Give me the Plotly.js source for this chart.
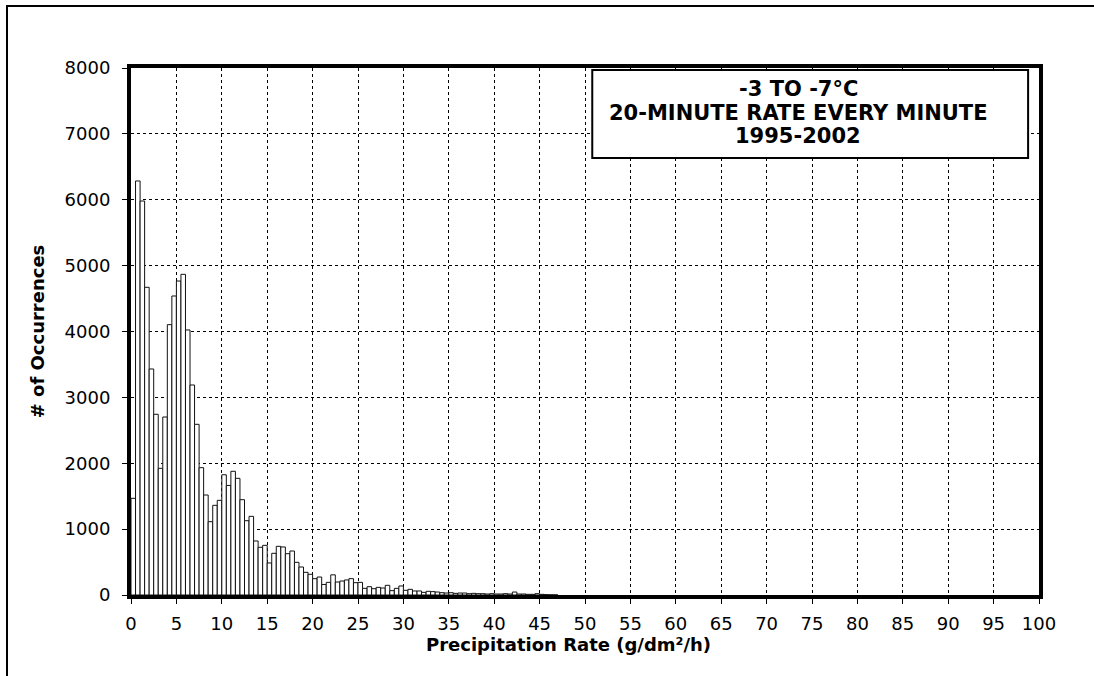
<!DOCTYPE html>
<html>
<head>
<meta charset="utf-8">
<script src="https://cdn.plot.ly/plotly-3.0.1.min.js"></script>
<style>
  html, body { margin: 0; padding: 0; background: #fff; }
  #frame { position: absolute; left: 6px; top: 5px; width: 1200px; height: 800px;
           border-left: 2px solid #000; border-top: 2px solid #000; }
  #chart { position: absolute; left: 0; top: 0; width: 1094px; height: 676px; }
</style>
</head>
<body>
<div id="frame"></div>
<div id="chart"></div>
<script>
// Precipitation rate bins (g/dm²/h), bin width 0.5, first bin starts at 0
const binWidth = 0.5;
const firstBinCenter = 0.25;
const occurrences = [
  1468, 6285, 5981, 4671, 3431, 2743, 1923, 2702, 4104, 4539,
  4766, 4868, 4023, 3188, 2591, 1933, 1518, 1113, 1361, 1437,
  1825, 1663, 1878, 1771, 1447, 1128, 1194, 820, 724, 754,
  486, 633, 739, 729, 627, 668, 496, 425, 344, 314,
  248, 273, 160, 192, 306, 197, 212, 228, 248, 187,
  192, 101, 126, 96, 116, 106, 147, 66, 101, 137,
  71, 86, 61, 61, 40, 56, 51, 45, 35, 30,
  35, 25, 30, 30, 20, 25, 20, 20, 15, 20,
  15, 15, 20, 15, 45, 15, 15, 10, 10, 20,
  10, 6, 3, 2
];
const xTicks = [0,5,10,15,20,25,30,35,40,45,50,55,60,65,70,75,80,85,90,95,100];
const yTicks = [0,1000,2000,3000,4000,5000,6000,7000,8000];
const boxLines = ["-3 TO -7°C", "20-MINUTE RATE EVERY MINUTE", "1995-2002"];
const boxLineY = [0.960, 0.9146, 0.871];
const xTitle = "Precipitation Rate (g/dm²/h)";
const yTitle = "# of Occurrences";

const tickFont = {family: "DejaVu Sans, sans-serif", size: 18, color: "#000"};
const titleFont = {family: "DejaVu Sans, sans-serif", size: 18, color: "#000", weight: "bold"};
const boxFont = {family: "DejaVu Sans, sans-serif", size: 21, color: "#000", weight: "bold"};

const trace = {
  type: "bar",
  x0: firstBinCenter,
  dx: binWidth,
  y: occurrences,
  width: binWidth,
  marker: {color: "#ffffff", line: {color: "#111", width: 1}},
  hoverinfo: "x+y"
};

const annotations = boxLines.map((t, i) => ({
  xref: "paper", yref: "paper", x: 0.7346, y: boxLineY[i],
  xanchor: "center", yanchor: "middle", showarrow: false,
  text: t, font: boxFont
}));
annotations.push({
  xref: "paper", yref: "paper", x: 0.482, y: -0.093,
  xanchor: "center", yanchor: "middle", showarrow: false,
  text: xTitle, font: titleFont
});

const layout = {
  width: 1094, height: 676,
  margin: {l: 131, r: 55, t: 68, b: 81, pad: 0},
  paper_bgcolor: "rgba(0,0,0,0)",
  plot_bgcolor: "#ffffff",
  showlegend: false,
  bargap: 0,
  xaxis: {
    range: [0, 100], tickvals: xTicks, ticktext: xTicks.map(String),
    showgrid: true, gridcolor: "#000", griddash: "dot", gridwidth: 1,
    showline: true, linecolor: "#000", linewidth: 4, mirror: true,
    zeroline: false, ticks: "outside", ticklen: 5, tickcolor: "#000", tickwidth: 1,
    tickfont: tickFont, ticklabelstandoff: 4
  },
  yaxis: {
    range: [0, 8000], tickvals: yTicks, ticktext: yTicks.map(String),
    showgrid: true, gridcolor: "#000", griddash: "dot", gridwidth: 1,
    showline: true, linecolor: "#000", linewidth: 4, mirror: true,
    zeroline: false, ticks: "outside", ticklen: 5, tickcolor: "#000", tickwidth: 1,
    tickfont: tickFont, ticklabelstandoff: 8,
    title: {text: yTitle, font: titleFont, standoff: 16}
  },
  shapes: [{
    type: "rect", xref: "paper", yref: "paper",
    x0: 0.508, x1: 0.988, y0: 0.829, y1: 0.996,
    fillcolor: "#ffffff", line: {color: "#000", width: 2}, layer: "above"
  }],
  annotations: annotations
};

Plotly.newPlot("chart", [trace], layout, {displayModeBar: false, staticPlot: true});
</script>
</body>
</html>
